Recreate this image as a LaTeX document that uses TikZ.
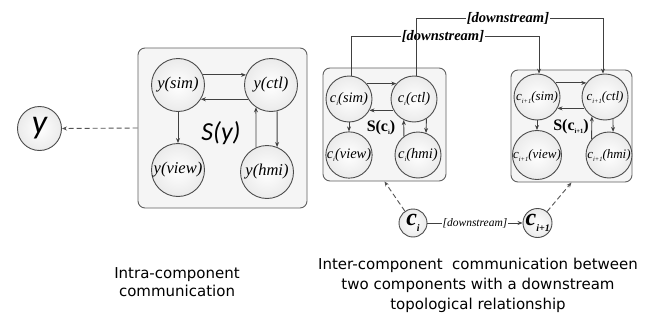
\documentclass[tikz,border=0pt]{standalone}
\usepackage{fontspec}
\setmainfont{Liberation Serif}
\newfontfamily\capfont{DejaVu Sans}
\newfontfamily\calfont{Carlito}
\usetikzlibrary{arrows.meta,calc}
\newcommand{\fs}[1]{\fontsize{#1}{#1}\selectfont}
\newcommand{\lowsub}[2]{\raisebox{-#1}{\fs{6.5}#2}}
\tikzset{
  cbox/.style={draw=gray!75!black, line width=0.9pt, rounded corners=7pt, fill=gray!8, inner sep=0pt},
  circ/.style={circle, draw=gray!60!black, line width=0.9pt, inner sep=0pt, shading=radial, inner color=white, outer color=gray!16},
  bigc/.style={circ, minimum size=53pt, font=\fs{16.5}\itshape},
  smc/.style={circ, minimum size=46pt, font=\fs{14.5}\itshape},
  smcn/.style={circ, minimum size=46pt, font=\fs{13}\itshape},
  arr/.style={-{Stealth[length=5pt,width=4pt]}, draw=black!75, line width=0.9pt},
  darr/.style={arr, dash pattern=on 5pt off 3pt, draw=gray!65!black},
  dlab/.style={fill=white, inner sep=1pt, font=\fs{14.5}\bfseries\itshape},
  slab/.style={fill=white, inner sep=1pt, font=\fs{11.5}\itshape},
  captxt/.style={font=\capfont\fs{15}, align=center, inner sep=0pt},
  plain/.style={inner sep=0pt}
}
\begin{document}
\begin{tikzpicture}[x=1pt,y=-1pt]
\useasboundingbox[fill=white] (0,0) rectangle (651,324);

% ---------- left: intra-component ----------
\node[cbox, minimum width=169pt, minimum height=160pt] (bSy) at (222.5,128) {};
\node[bigc] (ysim) at (178,85) {y(sim)};
\node[bigc] (yctl) at (271,85) {y(ctl)};
\node[bigc] (yview) at (178,170) {y(view)};
\node[bigc] (yhmi) at (267,172) {y(hmi)};
\node[plain, font=\calfont\itshape\fs{26}] (Sy) at (221,133) {S(y)};
\draw[arr] (ysim.22) -- (yctl.158);
\draw[arr] (yctl.212) -- (ysim.-32);
\draw[arr] (ysim.-90) -- (yview.90);
\draw[arr] (yctl.-77) -- (yhmi.68);
\draw[arr] (yhmi.114) -- (yctl.-124);

\node[circ, minimum size=44pt, font=\calfont\itshape\fs{34}] (ynode) at (39.5,128.5) {\raisebox{3pt}{y}};
\draw[darr] (bSy.west) -- (ynode.east);

% ---------- component c_i ----------
\node[cbox, minimum width=123pt, minimum height=113pt] (bCi) at (384.5,124.5) {};
\node[smc] (cisim) at (349,99) {c\lowsub{3pt}{i}(sim)};
\node[smc] (cictl) at (414,99) {c\lowsub{3pt}{i}(ctl)};
\node[smc] (ciview) at (349,155) {c\lowsub{3pt}{i}(view)};
\node[smc] (cihmi) at (418,155) {c\lowsub{3pt}{i}(hmi)};
\node[plain, font=\fs{16}\bfseries] (Sci) at (381,128) {S(c\lowsub{3pt}{\bfseries i})};
\draw[arr] (cisim.41) -- (cictl.139);
\draw[arr] (cictl.209) -- (cisim.-29);
\draw[arr] (cisim.-90) -- (ciview.90);
\draw[arr] (cictl.-58) -- (cihmi.70);
\draw[arr] (cihmi.127) -- (cictl.-116);

% ---------- component c_{i+1} ----------
\node[cbox, minimum width=121pt, minimum height=112pt] (bCn) at (571.5,126) {};
\node[smcn] (cnsim) at (537,97) {c\lowsub{3pt}{i+1}(sim)};
\node[smcn] (cnctl) at (605,97) {c\lowsub{3pt}{i+1}(ctl)};
\node[smcn] (cnview) at (537,155) {c\lowsub{3pt}{i+1}(view)};
\node[smcn] (cnhmi) at (609,155) {c\lowsub{3pt}{i+1}(hmi)};
\node[plain, font=\fs{16}\bfseries] (Scn) at (571,127) {S(c\lowsub{3pt}{\bfseries i+1})};
\draw[arr] (cnsim.37) -- (cnctl.143);
\draw[arr] (cnctl.209) -- (cnsim.-29);
\draw[arr] (cnsim.-90) -- (cnview.90);
\draw[arr] (cnctl.-70) -- (cnhmi.80);
\draw[arr] (cnhmi.138) -- (cnctl.-124);

% ---------- downstream links on top ----------
\coordinate (tin) at (0,36);
\coordinate (tout) at (0,18);
\draw[arr] (cisim.85) |- (cnsim.85 |- tin) -- (cnsim.85);
\node[dlab] (dl1) at (443,36) {[downstream]};
\draw[arr] (cictl.85) |- (cnctl.95 |- tout) -- (cnctl.95);
\node[dlab] (dl2) at (508,18) {[downstream]};

% ---------- bottom component nodes ----------
\node[circ, minimum size=28pt] (ci) at (413,223) {};
\node[plain, font=\fs{24}\bfseries\itshape] at (ci.center) {c\raisebox{-6pt}{\fs{10}\bfseries\itshape i}};
\node[circ, minimum size=29pt] (cn) at (537.5,223) {};
\node[plain, font=\fs{24}\bfseries\itshape, anchor=west] at ([xshift=-12pt]cn.center) {c\raisebox{-6pt}{\fs{10}\bfseries\itshape i+1}};
\draw[arr] (ci) -- node[slab] (dl3) {[downstream]} (cn);
\draw[darr] (ci) -- (bCi.south);
\draw[darr] (cn) -- (bCn.south);

% ---------- captions ----------
\node[captxt] (cap1) at (177,282) {Intra-component\\[3pt]communication};
\node[captxt] (cap2) at (478,285) {Inter-component~ communication between\\[5pt]two components with a downstream\\[5pt]topological relationship};
\end{tikzpicture}
\end{document}
